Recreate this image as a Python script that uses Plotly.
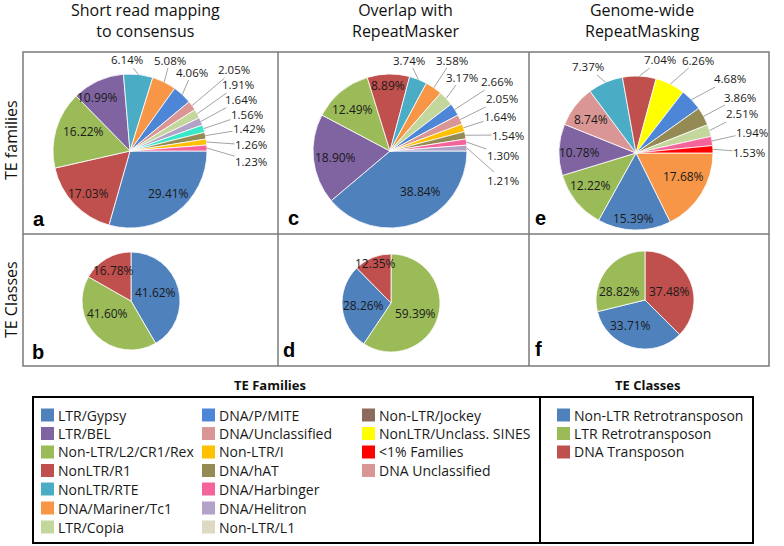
import math
import plotly.graph_objects as go

W, H = 784, 546

# ---------------- data ----------------
fam_a_labels = ["LTR/Gypsy", "NonLTR/R1", "Non-LTR/L2/CR1/Rex", "LTR/BEL", "NonLTR/RTE",
                "DNA/Mariner/Tc1", "DNA/P/MITE", "DNA/Unclassified", "LTR/Copia", "DNA/Helitron",
                "Other", "DNA/hAT", "Non-LTR/I", "DNA/Harbinger"]
fam_a_values = [29.41, 17.03, 16.22, 10.99, 6.14, 5.08, 4.06, 2.05, 1.91, 1.64, 1.56, 1.42, 1.26, 1.23]

fam_c_labels = ["LTR/Gypsy", "LTR/BEL", "Non-LTR/L2/CR1/Rex", "NonLTR/R1", "NonLTR/RTE",
                "DNA/Mariner/Tc1", "LTR/Copia", "DNA/P/MITE", "DNA/Unclassified", "Non-LTR/I",
                "DNA/hAT", "DNA/Harbinger", "DNA/Helitron"]
fam_c_values = [38.84, 18.90, 12.49, 8.89, 3.74, 3.58, 3.17, 2.66, 2.05, 1.64, 1.54, 1.30, 1.21]

fam_e_labels = ["DNA/Mariner/Tc1", "LTR/Gypsy", "Non-LTR/L2/CR1/Rex", "LTR/BEL", "DNA Unclassified",
                "NonLTR/RTE", "NonLTR/R1", "NonLTR/Unclass. SINES", "DNA/P/MITE", "DNA/hAT",
                "LTR/Copia", "DNA/Harbinger", "<1% Families"]
fam_e_values = [17.68, 15.39, 12.22, 10.78, 8.74, 7.37, 7.04, 6.26, 4.68, 3.86, 2.51, 1.94, 1.53]

cls_b_labels = ["Non-LTR Retrotransposon", "LTR Retrotransposon", "DNA Transposon"]
cls_b_values = [41.62, 41.60, 16.78]
cls_d_labels = ["LTR Retrotransposon", "Non-LTR Retrotransposon", "DNA Transposon"]
cls_d_values = [59.39, 28.26, 12.35]
cls_f_labels = ["DNA Transposon", "Non-LTR Retrotransposon", "LTR Retrotransposon"]
cls_f_values = [37.48, 33.71, 28.82]

col_titles = ["Short read mapping<br>to consensus", "Overlap with<br>RepeatMasker",
              "Genome-wide<br>RepeatMasking"]
row_titles = ["TE families", "TE Classes"]
panel_letters = ["a", "c", "e", "b", "d", "f"]

legend_fam_cols = [
    ["LTR/Gypsy", "LTR/BEL", "Non-LTR/L2/CR1/Rex", "NonLTR/R1", "NonLTR/RTE", "DNA/Mariner/Tc1", "LTR/Copia"],
    ["DNA/P/MITE", "DNA/Unclassified", "Non-LTR/I", "DNA/hAT", "DNA/Harbinger", "DNA/Helitron", "Non-LTR/L1"],
    ["Non-LTR/Jockey", "NonLTR/Unclass. SINES", "<1% Families", "DNA Unclassified"],
]
legend_cls = ["Non-LTR Retrotransposon", "LTR Retrotransposon", "DNA Transposon"]

# ---------------- styles ----------------
COL = {
    "LTR/Gypsy": "#4F81BD", "LTR/BEL": "#8064A2", "Non-LTR/L2/CR1/Rex": "#9BBB59",
    "NonLTR/R1": "#C0504D", "NonLTR/RTE": "#4BACC6", "DNA/Mariner/Tc1": "#F79646",
    "LTR/Copia": "#C3D69B", "DNA/P/MITE": "#4D86D6", "DNA/Unclassified": "#D99694",
    "Non-LTR/I": "#FFC000", "DNA/hAT": "#948A54", "DNA/Harbinger": "#F5639B",
    "DNA/Helitron": "#B3A2C7", "Non-LTR/L1": "#DDD9C3", "Non-LTR/Jockey": "#8C6B5C",
    "NonLTR/Unclass. SINES": "#FFFF00", "<1% Families": "#FF0000", "DNA Unclassified": "#D99694",
    "Other": "#38E8C8",
    "Non-LTR Retrotransposon": "#4F81BD", "LTR Retrotransposon": "#9BBB59", "DNA Transposon": "#C0504D",
}
FONT = "Open Sans, Noto Sans, sans-serif"
LBL_FONT = dict(family=FONT, size=12, color="#1a1a1a")
OUT_FONT = dict(family=FONT, size=11.5, color="#1a1a1a")


def px(x):
    return x / W


def py(y):
    return 1 - y / H


fig = go.Figure()
annotations = []
shapes = []


def add_pie(labels, values, cx, cy, r, rotation, start_deg, in_pos, out_pos):
    text = [f"{v:.2f}%" for v in values]
    fig.add_trace(go.Pie(
        labels=labels, values=values, sort=False, direction="clockwise", rotation=rotation,
        marker=dict(colors=[COL[l] for l in labels], line=dict(color="white", width=0.8)),
        text=text, textinfo="none",
        domain=dict(x=[px(cx - r), px(cx + r)], y=[py(cy + r), py(cy - r)]),
        showlegend=False, hoverinfo="label+text",
    ))
    n_inside = len(in_pos)
    total = sum(values)
    cum = 0.0
    for i, v in enumerate(values):
        mid = (cum + v / 2) / total
        cum += v
        if i < n_inside:
            tx, ty = in_pos[i]
            annotations.append(dict(x=px(tx), y=py(ty), xref="paper", yref="paper", text=text[i],
                                    showarrow=False, font=LBL_FONT, xanchor="center", yanchor="middle",
                                    borderpad=0))
            continue
        th = math.radians(start_deg) + 2 * math.pi * mid
        hx = cx + r * math.cos(th)
        hy = cy + r * math.sin(th)
        tx, ty = out_pos[i - n_inside]
        annotations.append(dict(
            x=px(hx), y=py(hy), xref="paper", yref="paper", ax=tx - hx, ay=ty - hy,
            axref="pixel", ayref="pixel", text=text[i], showarrow=True, arrowhead=0,
            arrowwidth=0.8, arrowcolor="#8c8c8c", standoff=0, font=OUT_FONT, borderpad=0,
        ))


# label positions (pixel layout)
in_a = [(168, 193), (88, 193), (83, 131), (97, 97)]
pos_a = [(127, 60), (170, 60), (192, 72), (234, 70), (238, 85), (241, 99.5), (247, 114),
         (249, 128.5), (251, 145), (251, 161)]
in_c = [(420, 191), (335, 157), (352, 110), (388, 85)]
pos_c = [(409, 60), (452, 60), (462, 77), (497, 82), (502, 99), (500, 116), (508, 135),
         (503, 155), (503, 180)]
in_e = [(683, 177), (633, 218), (590, 185), (579, 152), (591, 119)]
pos_e = [(588, 67), (660, 60), (698, 60), (730, 79), (740, 97), (742, 114), (752, 132), (749, 152)]
in_b = [(155, 292), (107, 313), (113, 270)]
in_d = [(415, 313), (363, 305), (375, 263)]
in_f = [(669, 291), (630, 325), (619, 291)]

add_pie(fam_a_labels, fam_a_values, 130, 151, 77, 90, 0, in_a, pos_a)
add_pie(fam_c_labels, fam_c_values, 390, 151, 77, 90, 0, in_c, pos_c)
add_pie(fam_e_labels, fam_e_values, 636, 153, 77, 90, 0, in_e, pos_e)
add_pie(cls_b_labels, cls_b_values, 131, 301, 49, 0, -90, in_b, [])
add_pie(cls_d_labels, cls_d_values, 391, 303, 49, 0, -90, in_d, [])
add_pie(cls_f_labels, cls_f_values, 645, 300, 49, 0, -90, in_f, [])

# ---------------- grid ----------------
GRID = "#7a7a7a"
shapes.append(dict(type="rect", xref="paper", yref="paper", x0=px(23), x1=px(769), y0=py(366), y1=py(52),
                   line=dict(color=GRID, width=1.5)))
shapes.append(dict(type="line", xref="paper", yref="paper", x0=px(23), x1=px(769), y0=py(234), y1=py(234),
                   line=dict(color=GRID, width=1.5)))
for xv in (278, 529):
    shapes.append(dict(type="line", xref="paper", yref="paper", x0=px(xv), x1=px(xv), y0=py(366), y1=py(52),
                       line=dict(color=GRID, width=1.5)))

# column titles
for t, xc in zip(col_titles, (145, 406, 642)):
    annotations.append(dict(x=px(xc), y=py(21), xref="paper", yref="paper", text=t, showarrow=False,
                            font=dict(family=FONT, size=16, color="#111"), xanchor="center", yanchor="middle"))
# row titles
for t, yc in zip(row_titles, (140, 300)):
    annotations.append(dict(x=px(11), y=py(yc), xref="paper", yref="paper", text=t, showarrow=False,
                            textangle=-90, font=dict(family=FONT, size=16, color="#111"),
                            xanchor="center", yanchor="middle"))
# panel letters
for t, (xl, yl) in zip(panel_letters, [(39, 219), (293, 218), (540, 218), (38, 352), (289, 350), (538, 349)]):
    annotations.append(dict(x=px(xl), y=py(yl), xref="paper", yref="paper", text=f"<b>{t}</b>", showarrow=False,
                            font=dict(family="Liberation Sans, Arial, sans-serif", size=20, color="#000"),
                            xanchor="center", yanchor="middle"))

# ---------------- legend ----------------
shapes.append(dict(type="rect", xref="paper", yref="paper", x0=px(33), x1=px(753), y0=py(543), y1=py(397),
                   line=dict(color="#000", width=2)))
shapes.append(dict(type="line", xref="paper", yref="paper", x0=px(540), x1=px(540), y0=py(543), y1=py(397),
                   line=dict(color="#000", width=2)))
for t, xc in (("TE Families", 270), ("TE Classes", 647)):
    annotations.append(dict(x=px(xc), y=py(385), xref="paper", yref="paper", text=f"<b>{t}</b>", showarrow=False,
                            font=dict(family=FONT, size=13, color="#111"), xanchor="center", yanchor="middle"))

row_y = [415, 433.5, 452, 470.5, 489, 508, 527]


def legend_items(items, sx):
    for j, name in enumerate(items):
        yc = row_y[j]
        shapes.append(dict(type="rect", xref="paper", yref="paper", x0=px(sx), x1=px(sx + 13),
                           y0=py(yc + 6.5), y1=py(yc - 6.5), fillcolor=COL[name], line=dict(width=0)))
        annotations.append(dict(x=px(sx + 15), y=py(yc), xref="paper", yref="paper",
                                text=name.replace("<", "&lt;"), showarrow=False,
                                font=dict(family=FONT, size=14, color="#1a1a1a"),
                                xanchor="left", yanchor="middle"))


for items, sx in zip(legend_fam_cols, (41, 202, 362)):
    legend_items(items, sx)
legend_items(legend_cls, 557)

fig.update_layout(
    width=W, height=H, margin=dict(l=0, r=0, t=0, b=0),
    paper_bgcolor="white", plot_bgcolor="white",
    annotations=annotations, shapes=shapes,
)
fig.write_html("out.html", config={"displayModeBar": False},
               post_script="document.body.style.margin='0px';")
